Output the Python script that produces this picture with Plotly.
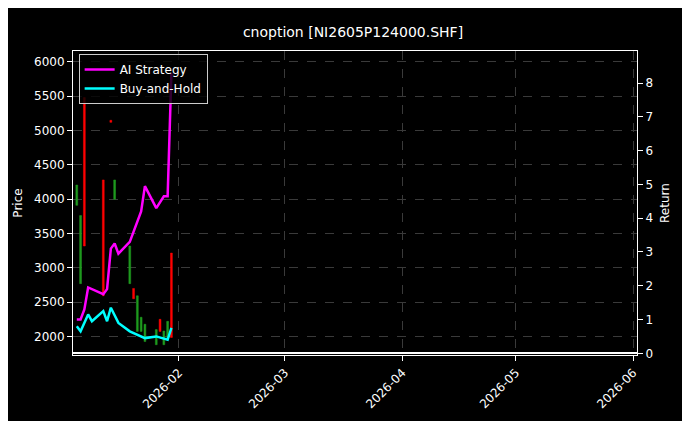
import plotly.graph_objects as go

c_dates = ["2026-01-05","2026-01-06","2026-01-07","2026-01-12","2026-01-14","2026-01-15",
           "2026-01-19","2026-01-20","2026-01-21","2026-01-22","2026-01-23","2026-01-26",
           "2026-01-27","2026-01-28","2026-01-29","2026-01-30"]
c_open  = [3911,2770,5481,4281,5150,4000,2770,2700,2074,2074,1926,1880,2250,1880,1960,3215]
c_close = [4207,3763,3318,2593,5120,4281,3318,2550,2593,2280,2178,2100,2074,2080,2220,1985]
c_high  = [max(a,b) for a,b in zip(c_open,c_close)]
c_low   = [min(a,b) for a,b in zip(c_open,c_close)]

s_dates = ["2026-01-05","2026-01-06","2026-01-07","2026-01-08","2026-01-12","2026-01-13",
           "2026-01-14","2026-01-15","2026-01-16","2026-01-19","2026-01-22","2026-01-23",
           "2026-01-26","2026-01-28","2026-01-29","2026-01-30"]
ai_ret  = [1.0,1.0,1.3,1.95,1.75,1.9,3.1,3.25,2.95,3.3,4.2,4.95,4.3,4.65,4.65,8.3]
bh_dates = ["2026-01-05","2026-01-06","2026-01-08","2026-01-09","2026-01-12","2026-01-13",
            "2026-01-14","2026-01-16","2026-01-19","2026-01-23","2026-01-26","2026-01-29","2026-01-30"]
bh_ret  = [0.8,0.65,1.15,0.95,1.25,0.95,1.35,0.9,0.65,0.45,0.5,0.4,0.75]

fig = go.Figure()
fig.add_trace(go.Candlestick(x=c_dates, open=c_open, high=c_high, low=c_low, close=c_close,
    increasing=dict(line=dict(color="#1f9a1f", width=0.5), fillcolor="#1f9a1f"),
    decreasing=dict(line=dict(color="#ff0000", width=0.5), fillcolor="#ff0000"),
    whiskerwidth=0, showlegend=False))
fig.add_trace(go.Scatter(x=s_dates, y=ai_ret, mode="lines", name="AI Strategy",
    line=dict(color="#ff00ff", width=2.5), yaxis="y2"))
fig.add_trace(go.Scatter(x=bh_dates, y=bh_ret, mode="lines", name="Buy-and-Hold",
    line=dict(color="#00ffff", width=2.5), yaxis="y2"))

grid = dict(showgrid=True, gridcolor="#3a3a3a", griddash="dash", gridwidth=0.5)
ax = dict(showline=True, linecolor="white", ticks="outside", tickcolor="white", automargin=False,
          tickfont=dict(size=12))
fig.update_layout(
    width=690, height=421, paper_bgcolor="black", plot_bgcolor="black",
    font=dict(family="DejaVu Sans", color="white", size=12),
    title=dict(text="cnoption [NI2605P124000.SHF]", x=0.5, xanchor="center", y=0.955, font=dict(size=14)),
    margin=dict(l=65, r=61, t=43, b=74),
    xaxis=dict(type="date", range=["2026-01-04", "2026-06-02"], tickformat="%Y-%m",
               dtick="M1", tick0="2026-02-01", tickangle=-45, rangeslider=dict(visible=False),
               mirror=True, **ax, **grid),
    yaxis=dict(title=dict(text="Price", font=dict(size=12), standoff=8), range=[1730, 6160], dtick=500, **ax, **grid),
    yaxis2=dict(title=dict(text="Return", font=dict(size=12), standoff=8), overlaying="y", side="right",
                range=[-0.05, 8.95], dtick=1, showgrid=False, **ax),
    legend=dict(x=0.01, y=0.99, xanchor="left", yanchor="top", bgcolor="rgba(0,0,0,0.8)",
                bordercolor="#ccc", borderwidth=1, font=dict(size=12)),
)
fig.write_html("out.html")
